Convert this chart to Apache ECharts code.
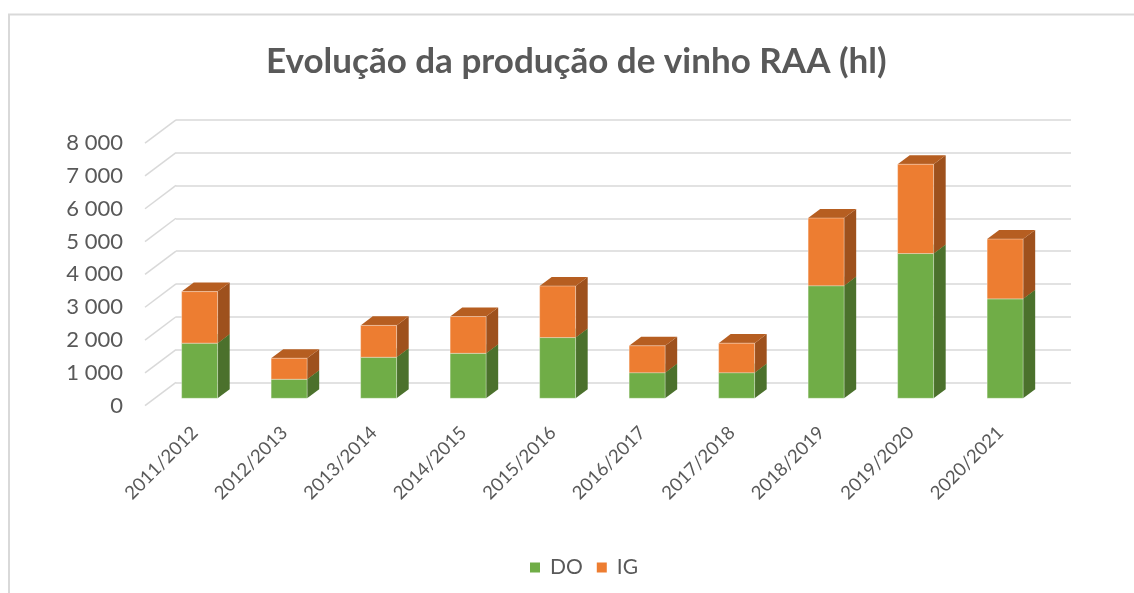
<!DOCTYPE html>
<html>
<head>
<meta charset="utf-8">
<script src="https://cdn.jsdelivr.net/npm/echarts@6/dist/echarts.min.js"></script>
<style>
  html, body { margin: 0; padding: 0; background: #ffffff; }
  #chart { width: 1134px; height: 593px; }
</style>
</head>
<body>
<div id="chart"></div>
<script>
// ---- data ----
const categories = ['2011/2012', '2012/2013', '2013/2014', '2014/2015', '2015/2016',
                    '2016/2017', '2017/2018', '2018/2019', '2019/2020', '2020/2021'];
const DO = [1680, 580, 1250, 1370, 1850, 780, 780, 3430, 4410, 3030];
const IG = [1570, 640, 970, 1120, 1570, 820, 900, 2060, 2720, 1820];
const yTicks = [0, 1000, 2000, 3000, 4000, 5000, 6000, 7000, 8000];
const titleText = 'Evolução da produção de vinho RAA (hl)';

// ---- styling constants (pseudo-3D depth) ----
const DX = 31, DY = 23.3;          // full depth of the floor
const F0 = 0.318;                  // bar front position (fraction of depth)
const FD = 0.39;                   // bar depth (fraction of depth)
const BX = DX * FD, BY = DY * FD;
const LX = 5;                      // label anchor shift
const FONT = 'Lato, "Open Sans", sans-serif';
const TXT = '#595959';
const GRIDC = '#d9d9d9';

const colors = {
  DO: { front: '#70AD47', side: '#4B712C', top: '#5E8F3A' },
  IG: { front: '#ED7D31', side: '#9E511D', top: '#B65E21' }
};

const fmt = v => String(v).replace(/\B(?=(\d{3})+(?!\d))/g, ' ');

const doData = categories.map((c, i) => [i, 0, DO[i]]);
const igData = categories.map((c, i) => [i, DO[i], DO[i] + IG[i]]);

function barRender(col) {
  return function (params, api) {
    const i = api.value(0);
    const p0 = api.coord([i, api.value(1)]);
    const p1 = api.coord([i, api.value(2)]);
    const w = api.size([1, 0])[0] * 0.402;
    const x0 = p0[0] - w / 2, x1 = x0 + w;
    const yB = p0[1], yT = p1[1];
    return {
      type: 'group',
      children: [
        { type: 'polygon', shape: { points: [[x1, yB], [x1 + BX, yB - BY], [x1 + BX, yT - BY], [x1, yT]] },
          style: { fill: col.side } },
        { type: 'polygon', shape: { points: [[x0, yT], [x1, yT], [x1 + BX, yT - BY], [x0 + BX, yT - BY]] },
          style: { fill: col.top } },
        { type: 'rect', shape: { x: x0, y: yT, width: w, height: yB - yT },
          style: { fill: col.front, stroke: 'rgba(255,255,255,0.35)', lineWidth: 1 } }
      ]
    };
  };
}

const FL = 145, FR = 94, FT = 143.1, FB = 187.3; // floor-front plane grid

const option = {
  animation: false,
  backgroundColor: '#ffffff',
  textStyle: { fontFamily: FONT },
  title: {
    text: titleText,
    left: 266,
    top: 40,
    padding: 0,
    textStyle: { fontFamily: FONT, fontWeight: 'bold', fontSize: 35, color: TXT, lineHeight: 44 }
  },
  legend: {
    left: 525,
    top: 552,
    itemWidth: 10,
    itemHeight: 10,
    itemGap: 14,
    icon: 'rect',
    data: ['DO', 'IG'],
    textStyle: { fontFamily: FONT, fontSize: 21, color: TXT, padding: [0, 0, 0, 5] }
  },
  graphic: [
    { type: 'rect', silent: true, z: -10,
      shape: { x: 9, y: 14.5, width: 1200, height: 700 },
      style: { fill: 'none', stroke: GRIDC, lineWidth: 2 } }
  ],
  grid: [
    { left: FL, right: FR, top: FT, bottom: FB },
    { left: FL + DX * F0, right: FR - DX * F0, top: FT - DY * F0, bottom: FB + DY * F0 },
    { left: FL + DX, right: FR - DX, top: FT - DY, bottom: FB + DY },
    { left: FL + LX, right: FR - LX, top: FT, bottom: FB }
  ],
  xAxis: [
    { gridIndex: 0, type: 'category', data: categories, show: false },
    { gridIndex: 1, type: 'category', data: categories, show: false },
    { gridIndex: 2, type: 'category', data: categories, show: false },
    { gridIndex: 3, type: 'category', data: categories,
      axisLine: { show: false }, axisTick: { show: false }, splitLine: { show: false },
      axisLabel: { rotate: 45, margin: 24, interval: 0, fontFamily: FONT, fontSize: 18.5, color: TXT } }
  ],
  yAxis: [
    { gridIndex: 0, type: 'value', min: 0, max: 8000, interval: 1000,
      axisLine: { show: false }, axisTick: { show: false }, splitLine: { show: false },
      axisLabel: { margin: 22, fontFamily: FONT, fontSize: 22, color: TXT, formatter: fmt } },
    { gridIndex: 1, type: 'value', min: 0, max: 8000, interval: 1000, show: false, splitLine: { show: false } },
    { gridIndex: 2, type: 'value', min: 0, max: 8000, interval: 1000,
      axisLine: { show: false }, axisTick: { show: false }, axisLabel: { show: false },
      splitLine: { show: true, lineStyle: { color: GRIDC, width: 1.5 } } },
    { gridIndex: 3, type: 'value', min: 0, max: 8000, interval: 1000, show: false, splitLine: { show: false } }
  ],
  series: [
    {
      type: 'custom', name: 'wall', xAxisIndex: 0, yAxisIndex: 0, silent: true, z: 1,
      data: yTicks.map(v => [0, v]),
      encode: { x: 0, y: 1 },
      renderItem: function (params, api) {
        const cs = params.coordSys;
        const y = api.coord([0, api.value(1)])[1];
        return { type: 'line', shape: { x1: cs.x, y1: y, x2: cs.x + DX, y2: y - DY },
                 style: { stroke: GRIDC, lineWidth: 1.5 } };
      }
    },
    {
      type: 'custom', name: 'DO', xAxisIndex: 1, yAxisIndex: 1, z: 3,
      itemStyle: { color: colors.DO.front },
      data: doData, encode: { x: 0, y: [1, 2] },
      renderItem: barRender(colors.DO)
    },
    {
      type: 'custom', name: 'IG', xAxisIndex: 1, yAxisIndex: 1, z: 4,
      itemStyle: { color: colors.IG.front },
      data: igData, encode: { x: 0, y: [1, 2] },
      renderItem: barRender(colors.IG)
    }
  ]
};

const chart = echarts.init(document.getElementById('chart'), null, { renderer: 'canvas' });
chart.setOption(option);
</script>
</body>
</html>
